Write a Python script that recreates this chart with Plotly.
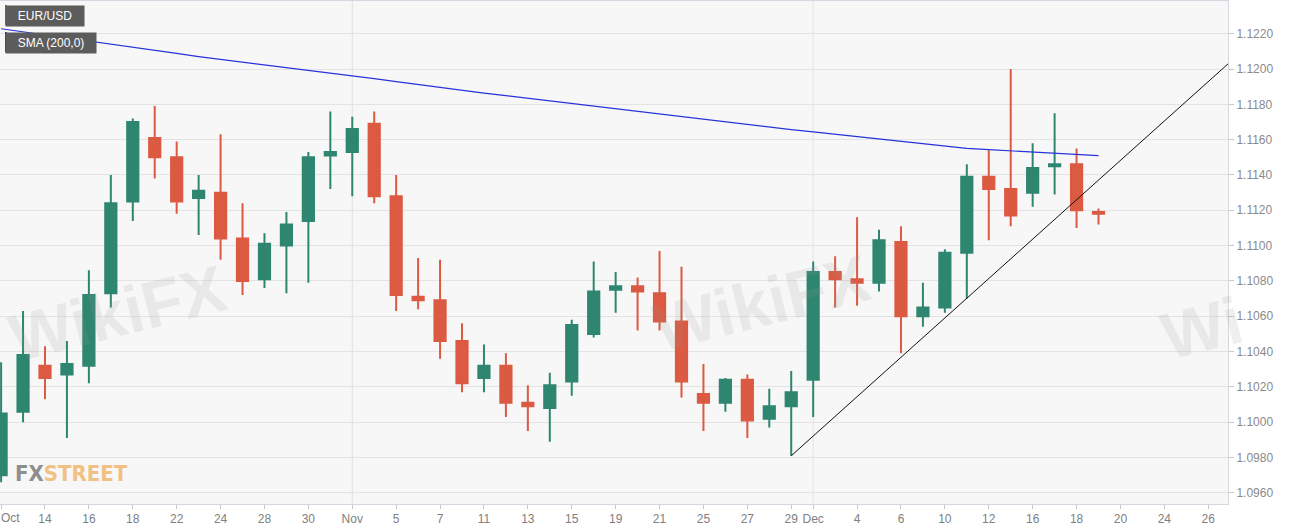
import plotly.graph_objects as go

# ---- data (EUR/USD daily, trading days from Oct 10 to Dec 19, 2019) ----
opens = [1.0970, 1.1006, 1.1032, 1.1027, 1.1032, 1.1073, 1.1125, 1.1161, 1.1150, 1.1127,
         1.1130, 1.1104, 1.1081, 1.1100, 1.1114, 1.1151, 1.1153, 1.1169, 1.1128, 1.1071,
         1.1069, 1.1046, 1.1025, 1.1032, 1.1011, 1.1008, 1.1023, 1.1050, 1.1075, 1.1077,
         1.1073, 1.1057, 1.1016, 1.1011, 1.1024, 1.1002, 1.1009, 1.1024, 1.1085, 1.1081,
         1.1079, 1.1102, 1.1060, 1.1065, 1.1096, 1.1139, 1.1132, 1.1130, 1.1145, 1.1146,
         1.1119]
highs = [1.1034, 1.1063, 1.1043, 1.1046, 1.1086, 1.1140, 1.1172, 1.1179, 1.1159, 1.1140,
         1.1163, 1.1124, 1.1107, 1.1119, 1.1153, 1.1176, 1.1173, 1.1176, 1.1140, 1.1093,
         1.1092, 1.1056, 1.1044, 1.1039, 1.1021, 1.1028, 1.1058, 1.1091, 1.1085, 1.1082,
         1.1097, 1.1088, 1.1033, 1.1025, 1.1027, 1.1019, 1.1029, 1.1091, 1.1094, 1.1116,
         1.1109, 1.1111, 1.1079, 1.1098, 1.1146, 1.1154, 1.1200, 1.1158, 1.1175, 1.1155,
         1.1121]
lows = [1.0966, 1.1000, 1.1013, 1.0991, 1.1022, 1.1065, 1.1114, 1.1138, 1.1118, 1.1106,
        1.1092, 1.1072, 1.1076, 1.1073, 1.1079, 1.1132, 1.1128, 1.1124, 1.1063, 1.1064,
        1.1036, 1.1017, 1.1017, 1.1003, 1.0995, 1.0989, 1.1015, 1.1048, 1.1062, 1.1052,
        1.1052, 1.1014, 1.0995, 1.1006, 1.0991, 1.0997, 1.0981, 1.1003, 1.1065, 1.1066,
        1.1074, 1.1039, 1.1054, 1.1062, 1.1070, 1.1103, 1.1111, 1.1122, 1.1129, 1.1110,
        1.1112]
closes = [1.1005, 1.1038, 1.1025, 1.1033, 1.1072, 1.1124, 1.1170, 1.1150, 1.1125, 1.1131,
          1.1104, 1.1080, 1.1101, 1.1112, 1.1150, 1.1153, 1.1166, 1.1128, 1.1072, 1.1069,
          1.1046, 1.1022, 1.1032, 1.1011, 1.1009, 1.1021, 1.1055, 1.1074, 1.1077, 1.1074,
          1.1057, 1.1023, 1.1011, 1.1024, 1.1001, 1.1009, 1.1017, 1.1085, 1.1081, 1.1079,
          1.1103, 1.1060, 1.1065, 1.1096, 1.1139, 1.1132, 1.1117, 1.1144, 1.1146, 1.1120,
          1.1118]
sma200 = [1.12228, 1.12211, 1.12193, 1.12176, 1.12158, 1.12140, 1.12123, 1.12105, 1.12088, 1.12070,
          1.12055, 1.12039, 1.12024, 1.12008, 1.11993, 1.11978, 1.11963, 1.11946, 1.11929, 1.11912,
          1.11895, 1.11878, 1.11863, 1.11849, 1.11834, 1.11820, 1.11805, 1.11791, 1.11776, 1.11761,
          1.11746, 1.11731, 1.11717, 1.11702, 1.11687, 1.11672, 1.11657, 1.11644, 1.11630, 1.11617,
          1.11604, 1.11590, 1.11577, 1.11563, 1.11550, 1.11543, 1.11537, 1.11530, 1.11523, 1.11517,
          1.11510]
# trend line drawn from the Nov 29 low (day index 36) upward
trend_x = [36, 56]
trend_y = [1.0981, 1.1204]

tick_pos = [0, 2, 4, 6, 8, 10, 12, 14, 16, 18, 20, 22, 24, 26, 28, 30, 32, 34, 36, 37,
            39, 41, 43, 45, 47, 49, 51, 53, 55]
tick_text = ["Oct", "14", "16", "18", "22", "24", "28", "30", "Nov", "5", "7", "11", "13", "15",
             "19", "21", "25", "27", "29", "Dec", "4", "6", "10", "12", "16", "18", "20", "24", "26"]
month_names = {"Oct", "Nov", "Dec"}

day_idx = list(range(len(closes)))

GREEN = "#2e8671"
RED = "#dc5a42"

fig = go.Figure()

fig.add_trace(go.Candlestick(
    x=day_idx, open=opens, high=highs, low=lows, close=closes,
    increasing=dict(line=dict(color=GREEN, width=2), fillcolor=GREEN),
    decreasing=dict(line=dict(color=RED, width=2), fillcolor=RED),
    whiskerwidth=0, showlegend=False, name="EUR/USD",
))
fig.add_trace(go.Scatter(x=day_idx, y=sma200, mode="lines",
                         line=dict(color="#2633d9", width=1.2), showlegend=False, name="SMA (200,0)"))
fig.add_trace(go.Scatter(x=trend_x, y=trend_y, mode="lines",
                         line=dict(color="#111111", width=1), showlegend=False, hoverinfo="skip"))

# month separators (vertical grid lines)
for p, t in zip(tick_pos, tick_text):
    if t in month_names and p > 0:
        fig.add_shape(type="line", xref="x", yref="paper", x0=p, x1=p, y0=0, y1=1,
                      line=dict(color="#e2e2e2", width=1), layer="below")

# the first tick label sits flush against the left edge, so it is drawn as an annotation
shown_ticktext = list(tick_text)
shown_ticktext[0] = ""
fig.add_annotation(xref="x", yref="paper", x=tick_pos[0], y=0, xanchor="left", yanchor="top",
                   xshift=-2, yshift=-5, text=tick_text[0], showarrow=False,
                   font=dict(size=12, color="#808080", family="Liberation Sans, Arial"))

# legend-like labels top-left
label_specs = [("EUR/USD", 72, -4, GREEN), ("SMA (200,0)", 84, -31, "#1a2bc8")]
for text, w, yshift, acc in label_specs:
    fig.add_annotation(xref="paper", yref="paper", x=0, y=1, xanchor="left", yanchor="top",
                       xshift=5, yshift=yshift, text=text, showarrow=False, width=w, height=14,
                       borderpad=3, bgcolor="#5c5c5c", align="center",
                       font=dict(color="white", size=12, family="Liberation Sans, Arial"))
    fig.add_shape(type="rect", xref="paper", yref="paper", xsizemode="pixel", ysizemode="pixel",
                  xanchor=0, yanchor=1, x0=5, x1=7, y0=yshift, y1=yshift - 20,
                  fillcolor=acc, line=dict(width=0))

# watermarks
for (px, py, txt) in [(0.0, 0.38, "WikiFX"), (0.62, 0.40, "WikiFX"), (1.02, 0.35, "Wi")]:
    fig.add_annotation(xref="paper", yref="paper", x=px, y=py, text="<b>" + txt + "</b>",
                       showarrow=False, textangle=-14,
                       font=dict(size=66, color="rgba(150,150,150,0.15)", family="Liberation Sans, Arial"))

fig.add_annotation(xref="paper", yref="paper", x=0, y=0, xanchor="left", yanchor="bottom",
                   xshift=13, yshift=16, showarrow=False,
                   text="<b><span style='color:#8e8e8e'>FX</span><span style='color:#f0c183'>STREET</span></b>",
                   font=dict(size=22, family="DejaVu Sans Condensed, Liberation Sans Narrow, Arial Narrow, Liberation Sans"))

fig.update_layout(
    width=1299, height=530,
    margin=dict(l=0, r=71, t=1, b=26),
    paper_bgcolor="white", plot_bgcolor="#f7f7f7",
    font=dict(family="Liberation Sans, Arial", size=12, color="#8a8a8a"),
    xaxis=dict(range=[-0.05, 55.9], tickmode="array", tickvals=tick_pos, ticktext=shown_ticktext,
               showgrid=False, zeroline=False, rangeslider=dict(visible=False),
               showline=True, mirror=True, linecolor="#d4d7e0", linewidth=1,
               ticks="outside", ticklen=4, tickcolor="#c8c8c8",
               tickfont=dict(size=12, color="#808080")),
    yaxis=dict(range=[1.09537, 1.12385], side="right", dtick=0.002, tick0=1.0960,
               tickformat=".4f", showgrid=True, gridcolor="#e3e3e3", zeroline=False,
               showline=True, mirror=True, linecolor="#d4d7e0", linewidth=1,
               ticks="outside", ticklen=5, tickcolor="#c8c8c8",
               tickfont=dict(size=12, color="#8a8a8a")),
    boxgap=0.27,
    hovermode=False,
)

fig.write_html("out.html", config={"displayModeBar": False},
               post_script="document.body.style.margin='0px';document.body.style.padding='0px';"
                           "document.body.style.overflow='hidden';")
